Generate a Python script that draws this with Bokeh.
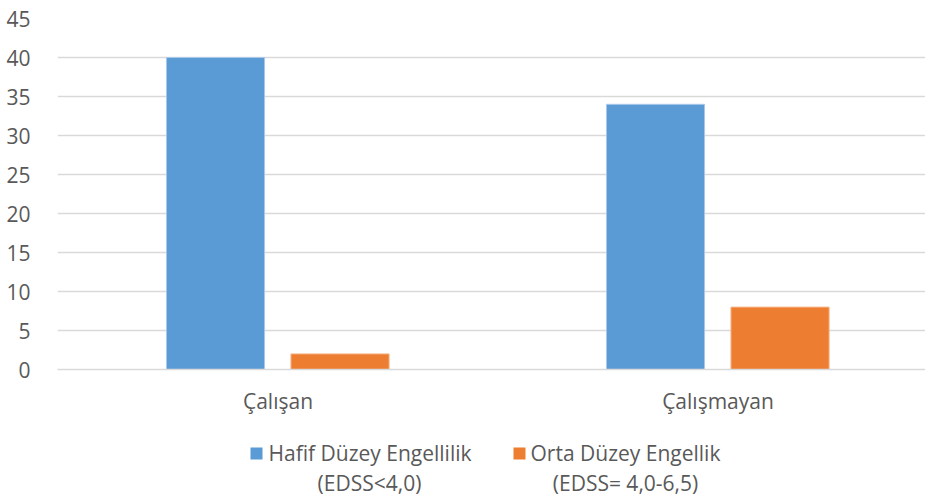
from bokeh.plotting import figure
from bokeh.layouts import column
from bokeh.models import ColumnDataSource, Range1d, FixedTicker
from bokeh.core.properties import value
from bokeh.embed import file_html
from bokeh.resources import INLINE

categories = ["Çalışan", "Çalışmayan"]
hafif = [40, 34]
orta = [2, 8]
series_line1 = ["Hafif Düzey Engellilik", "Orta Düzey Engellik"]
series_line2 = ["(EDSS<4,0)", "(EDSS= 4,0-6,5)"]
series_colors = ["#5B9BD5", "#ED7D31"]
y_ticks = [0, 5, 10, 15, 20, 25, 30, 35, 40, 45]

FONT = "Open Sans"
FS = "21px"
TXT = "#595959"
GRID = "#D9D9D9"

idx = list(range(len(categories)))
src = ColumnDataSource(dict(
    xb=[i - 0.142 for i in idx],
    xo=[i + 0.141 for i in idx],
    hafif=hafif,
    orta=orta,
))

p = figure(width=925, height=423, output_backend="svg", toolbar_location=None,
           x_range=Range1d(-0.5011, 1.4716), y_range=Range1d(0, 45))
p.min_border_left = 57
p.min_border_right = 0
p.min_border_top = 18
p.min_border_bottom = 54
p.outline_line_color = None
p.background_fill_color = "white"
p.border_fill_color = "white"

p.vbar(x="xb", top="hafif", width=0.223, source=src,
       fill_color=series_colors[0], line_color="#A9C8EA", line_width=1)
p.vbar(x="xo", top="orta", width=0.223, source=src,
       fill_color=series_colors[1], line_color="#F5B58A", line_width=1)

p.xaxis.ticker = FixedTicker(ticks=idx)
p.xaxis.major_label_overrides = {i: c for i, c in zip(idx, categories)}
p.xaxis.major_tick_line_color = None
p.xaxis.minor_tick_line_color = None
p.xaxis.axis_line_color = GRID
p.xaxis.axis_line_width = 1.5
p.xaxis.major_label_standoff = 11
p.xaxis.major_label_text_font = FONT
p.xaxis.major_label_text_font_size = FS
p.xaxis.major_label_text_color = TXT

p.yaxis.ticker = FixedTicker(ticks=y_ticks)
p.yaxis.axis_line_color = None
p.yaxis.major_tick_line_color = None
p.yaxis.minor_tick_line_color = None
p.yaxis.major_label_standoff = 21
p.yaxis.major_label_text_font = FONT
p.yaxis.major_label_text_font_size = FS
p.yaxis.major_label_text_color = TXT

p.xgrid.grid_line_color = None
p.ygrid.grid_line_color = GRID
p.ygrid.grid_line_width = 1.5
p.ygrid.ticker = FixedTicker(ticks=y_ticks)

# legend panel: frame aligned with the chart frame (x in page pixels)
leg = figure(width=925, height=79, output_backend="svg", toolbar_location=None,
             x_range=Range1d(57, 925), y_range=Range1d(79, 0),
             x_axis_location=None, y_axis_location=None,
             min_border_left=57, min_border_right=0, min_border_top=0, min_border_bottom=0)
leg.outline_line_color = None
leg.grid.visible = False
leg.border_fill_color = "white"
leg.background_fill_color = "white"

sq_x = [256, 519]
txt1_x = [268, 530]
txt2_x = [369, 625]
leg.rect(x=sq_x, y=[30, 30], width=12, height=12, fill_color=series_colors, line_color=None)
leg.text(x=txt1_x, y=[29, 29], text=series_line1, text_font=value(FONT),
         text_font_size=FS, text_color=TXT, text_baseline="middle", text_align="left")
leg.text(x=txt2_x, y=[59, 59], text=series_line2, text_font=value(FONT),
         text_font_size=FS, text_color=TXT, text_baseline="middle", text_align="center")

open("out.html", "w").write(file_html(column(p, leg, spacing=0), INLINE))
